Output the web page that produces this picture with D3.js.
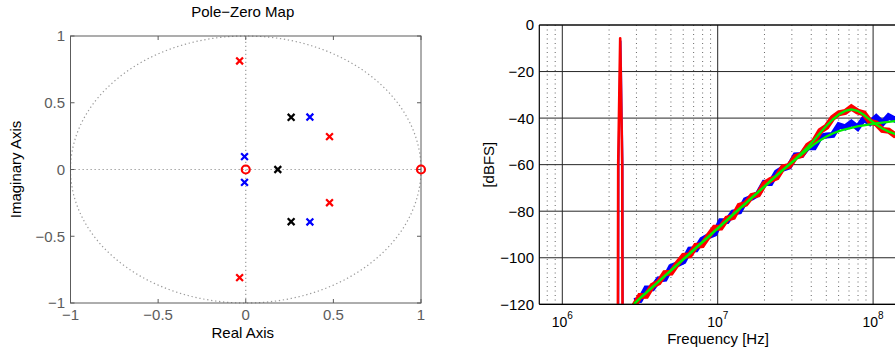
<!DOCTYPE html>
<html><head><meta charset="utf-8">
<script src="https://cdn.jsdelivr.net/npm/d3@7"></script>
<style>body{margin:0;background:#fff}svg{display:block}text{font-family:"Liberation Sans",Arial,Helvetica,sans-serif}</style>
</head><body><svg id="c" width="895" height="350"></svg>
<script>
// ---------- Pole-zero map data ----------
const redPolesRe = [-0.035, -0.035, 0.478, 0.478];
const redPolesIm = [0.813, -0.81, 0.246, -0.249];
const bluePolesRe = [-0.007, -0.007, 0.366, 0.366];
const bluePolesIm = [0.096, -0.096, 0.393, -0.393];
const blackPolesRe = [0.183, 0.259, 0.259];
const blackPolesIm = [0, 0.391, -0.391];
const zerosRe = [0, 1];
const zerosIm = [0, 0];
const pzTicks = [-1, -0.5, 0, 0.5, 1];

// ---------- Spectrum data ----------
const freqMHz = [2.9,3.16,3.47,3.8,4.17,4.57,5.01,5.5,6.03,6.61,7.24,7.94,8.71,9.55,10.47,11.48,12.59,13.8,15.14,16.6,18.2,19.95,21.88,23.99,26.3,28.84,31.62,34.67,38.02,41.69,45.71,50.12,54.95,60.26,66.07,72.44,79.43,87.1,95.5,104.7,114.8,125.9,138,151.4];
const blueMeas = [-118.6,-118.2,-113.2,-113.1,-109.3,-109.0,-103.9,-102.8,-101.5,-96.5,-96.4,-92.3,-90.7,-89.6,-84.3,-84.2,-80.6,-80.1,-75.2,-74.1,-72.5,-67.8,-67.9,-63.3,-61.7,-60.8,-56.0,-55.9,-52.4,-52.5,-48.0,-47.5,-47.2,-43.1,-44.0,-42.0,-44.1,-40.3,-42.1,-39.7,-42.2,-39.2,-40.6,-39.0];
const redMeas = [-120.7,-116.4,-116.3,-112.0,-110.6,-106.6,-106.4,-102.5,-99.2,-98.9,-94.9,-94.6,-90.7,-87.1,-87.0,-83.2,-82.5,-77.7,-76.8,-73.4,-72.8,-68.3,-66.6,-65.5,-61.2,-60.5,-56.7,-55.8,-51.8,-50.0,-45.5,-43.7,-39.9,-37.9,-37.4,-35.4,-37.2,-38.0,-41.5,-42.3,-45.1,-45.4,-47.3,-47.2];
const blueFit = [-119.8,-117.4,-115.0,-112.6,-110.2,-107.8,-105.4,-103.0,-100.6,-98.2,-95.8,-93.4,-91.0,-88.6,-86.2,-83.8,-81.4,-79.0,-76.6,-74.2,-71.8,-69.4,-67.0,-64.6,-62.2,-60.0,-57.8,-55.6,-53.4,-51.3,-49.5,-47.9,-46.6,-45.6,-44.8,-44.2,-43.6,-43.1,-42.7,-42.3,-41.9,-41.6,-41.3,-41.0];
const redFit = [-119.8,-117.4,-115.0,-112.6,-110.2,-107.8,-105.4,-103.0,-100.6,-98.2,-95.8,-93.4,-91.0,-88.6,-86.2,-83.8,-81.4,-79.0,-76.6,-74.2,-71.8,-69.4,-67.0,-64.6,-62.2,-60.0,-57.6,-55.0,-52.4,-49.4,-46.3,-43.3,-40.6,-38.4,-36.9,-36.3,-36.9,-38.6,-40.8,-42.8,-44.5,-45.8,-46.8,-47.5];
const spikeRedMHz = [2.279, 2.289, 2.358, 2.430, 2.440];
const spikeRed = [-125, -60, -5.7, -60, -125];
const spikeBlueMHz = [2.29, 2.30, 2.37, 2.44, 2.45];
const spikeBlue = [-125, -60, -7, -60, -125];
const dbTicks = [0, -20, -40, -60, -80, -100, -120];
const decadeTicks = [1e6, 1e7, 1e8];

const svg = d3.select("#c");
const fmt = v => (v < 0 ? "\u2212" + String(-v) : String(v));

// ================= LEFT: Pole-Zero Map =================
const axisGray = "#5c5c5c";
const xP = d3.scaleLinear().domain([-1, 1]).range([70.5, 421]);
const yP = d3.scaleLinear().domain([-1, 1]).range([303, 36]);
const L = svg.append("g");

const circ = d3.range(0, 361, 1).map(a => [Math.cos(a * Math.PI / 180), Math.sin(a * Math.PI / 180)]);
L.append("path").attr("d", d3.line().x(d => xP(d[0])).y(d => yP(d[1]))(circ))
  .attr("fill", "none").attr("stroke", "#9a9a9a").attr("stroke-width", 1.2).attr("stroke-dasharray", "1.3,2.7");
L.append("line").attr("x1", xP(-1)).attr("x2", xP(1)).attr("y1", yP(0)).attr("y2", yP(0))
  .attr("stroke", "#9a9a9a").attr("stroke-width", 1.2).attr("stroke-dasharray", "1.3,2.7");
L.append("line").attr("x1", xP(0)).attr("x2", xP(0)).attr("y1", yP(-1)).attr("y2", yP(1))
  .attr("stroke", "#9a9a9a").attr("stroke-width", 1.2).attr("stroke-dasharray", "1.3,2.7");

L.append("rect").attr("x", xP(-1)).attr("y", yP(1)).attr("width", xP(1) - xP(-1)).attr("height", yP(-1) - yP(1))
  .attr("fill", "none").attr("stroke", axisGray).attr("stroke-width", 1);
pzTicks.forEach(t => {
  L.append("line").attr("x1", xP(t)).attr("x2", xP(t)).attr("y1", yP(-1)).attr("y2", yP(-1) - 4).attr("stroke", axisGray);
  L.append("line").attr("x1", xP(t)).attr("x2", xP(t)).attr("y1", yP(1)).attr("y2", yP(1) + 4).attr("stroke", axisGray);
  L.append("line").attr("y1", yP(t)).attr("y2", yP(t)).attr("x1", xP(-1)).attr("x2", xP(-1) + 4).attr("stroke", axisGray);
  L.append("line").attr("y1", yP(t)).attr("y2", yP(t)).attr("x1", xP(1)).attr("x2", xP(1) - 4).attr("stroke", axisGray);
  L.append("text").attr("x", xP(t)).attr("y", 320).attr("text-anchor", "middle")
    .attr("font-size", 15).attr("fill", axisGray).text(fmt(t));
  L.append("text").attr("x", 65).attr("y", yP(t)).attr("dy", "0.36em").attr("text-anchor", "end")
    .attr("font-size", 15).attr("fill", axisGray).text(fmt(t));
});

const xMark = "M-3.4,-3.4L3.4,3.4M-3.4,3.4L3.4,-3.4";
function poles(re, im, color) {
  re.forEach((r, i) => {
    L.append("path").attr("d", xMark).attr("transform", `translate(${xP(r)},${yP(im[i])})`)
      .attr("stroke", color).attr("stroke-width", 2.2).attr("fill", "none");
  });
}
poles(blackPolesRe, blackPolesIm, "#000");
poles(bluePolesRe, bluePolesIm, "#0000ff");
poles(redPolesRe, redPolesIm, "#ff0000");
zerosRe.forEach((r, i) => {
  L.append("circle").attr("cx", xP(r)).attr("cy", yP(zerosIm[i])).attr("r", 4)
    .attr("fill", "none").attr("stroke", "#ff0000").attr("stroke-width", 2.2);
});

L.append("text").attr("x", xP(0) - 3).attr("y", 17).attr("text-anchor", "middle").attr("font-size", 15).text("Pole\u2212Zero Map");
L.append("text").attr("x", xP(0) - 3).attr("y", 338).attr("text-anchor", "middle").attr("font-size", 15).text("Real Axis");
L.append("text").attr("transform", `translate(21,${yP(0)}) rotate(-90)`).attr("text-anchor", "middle").attr("font-size", 15).text("Imaginary Axis");

// ================= RIGHT: Spectrum =================
const xR = d3.scaleLog().domain([1e6, 1e8]).range([562.3, 873.1]);
const yR = d3.scaleLinear().domain([-120, 0]).range([304.3, 25]);
const left = 539.3, rightEdge = 940;
const R = svg.append("g");
R.append("clipPath").attr("id", "clipR").append("rect")
  .attr("x", left).attr("y", yR(0)).attr("width", rightEdge - left).attr("height", yR(-120) - yR(0));

const lo = xR.invert(left), hi = xR.invert(rightEdge);
const xs = d3.scaleLog().domain([lo, hi]);
const minor = xs.ticks().filter(v => Math.abs(Math.log10(v) - Math.round(Math.log10(v))) > 1e-6);
minor.forEach(v => {
  R.append("line").attr("x1", xR(v)).attr("x2", xR(v)).attr("y1", yR(0)).attr("y2", yR(-120))
    .attr("stroke", "#666").attr("stroke-width", 1).attr("stroke-dasharray", "1,3.5");
});
decadeTicks.forEach(v => {
  R.append("line").attr("x1", xR(v)).attr("x2", xR(v)).attr("y1", yR(0)).attr("y2", yR(-120))
    .attr("stroke", "#262626").attr("stroke-width", 1);
});
dbTicks.forEach(v => {
  R.append("line").attr("x1", left).attr("x2", rightEdge).attr("y1", yR(v)).attr("y2", yR(v))
    .attr("stroke", "#262626").attr("stroke-width", 1);
});

const data = R.append("g").attr("clip-path", "url(#clipR)");
const line = d3.line().x(d => xR(d[0] * 1e6)).y(d => yR(d[1]));
function draw(fs, vs, color, w, join) {
  data.append("path").attr("d", line(fs.map((f, i) => [f, vs[i]])))
    .attr("fill", "none").attr("stroke", color).attr("stroke-width", w).attr("stroke-linejoin", join || "miter");
}
draw(freqMHz, blueMeas, "#0000ff", 6);
draw(spikeBlueMHz, spikeBlue, "#3a3aff", 2.2, "round");
draw(freqMHz, redMeas, "#ff0000", 6);
draw(spikeRedMHz, spikeRed, "#ff0000", 2.6, "round");
draw(freqMHz, blueFit, "#00ee00", 2.3, "round");
draw(freqMHz, redFit, "#00ee00", 2.3, "round");

R.append("line").attr("x1", left).attr("x2", left).attr("y1", yR(0)).attr("y2", yR(-120)).attr("stroke", "#000").attr("stroke-width", 1.2);
R.append("line").attr("x1", left).attr("x2", rightEdge).attr("y1", yR(0)).attr("y2", yR(0)).attr("stroke", "#000").attr("stroke-width", 1.2);
R.append("line").attr("x1", left).attr("x2", rightEdge).attr("y1", yR(-120)).attr("y2", yR(-120)).attr("stroke", "#000").attr("stroke-width", 1.2);

dbTicks.forEach(v => {
  R.append("text").attr("x", 534).attr("y", yR(v)).attr("dy", "0.36em").attr("text-anchor", "end")
    .attr("font-size", 15).text(fmt(v));
});
decadeTicks.forEach(v => {
  const t = R.append("text").attr("x", xR(v)).attr("y", 327).attr("text-anchor", "middle").attr("font-size", 14);
  t.append("tspan").text("10");
  t.append("tspan").attr("dy", -8).attr("font-size", 10).text(String(Math.round(Math.log10(v))));
});
R.append("text").attr("x", 718).attr("y", 344).attr("text-anchor", "middle").attr("font-size", 15).text("Frequency [Hz]");
R.append("text").attr("transform", `translate(494,${(yR(0) + yR(-120)) / 2}) rotate(-90)`).attr("text-anchor", "middle").attr("font-size", 15).text("[dBFS]");
</script></body></html>
